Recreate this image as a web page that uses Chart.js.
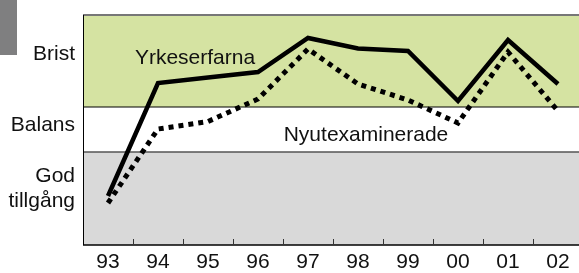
<!DOCTYPE html>
<html>
<head>
<meta charset="utf-8">
<script src="https://cdn.jsdelivr.net/npm/chart.js@4/dist/chart.umd.min.js"></script>
<style>
  html, body { margin: 0; padding: 0; background: #fff; overflow: hidden; width: 579px; height: 273px; }
  #wrap { position: relative; width: 579px; height: 273px; overflow: hidden; }
  #corner { position: absolute; left: 0; top: 0; width: 17px; height: 55px; background: #7f7f80; }
  canvas { position: absolute; left: 0; top: 0; }
</style>
</head>
<body>
<div id="wrap">
  <canvas id="chart" width="590" height="273"></canvas>
  <div id="corner"></div>
</div>
<script>
// years along the bottom
const years = ['93', '94', '95', '96', '97', '98', '99', '00', '01', '02'];
// labour market level, 0 = plenty ... 23 = shortage
const yrkeserfarna = [4.9, 16.2, 16.75, 17.3, 20.7, 19.65, 19.4, 14.4, 20.5, 16.1];
const nyutexaminerade = [4.2, 11.6, 12.35, 14.6, 19.6, 16.1, 14.5, 12.2, 19.3, 13.4];
const seriesNames = ['Yrkeserfarna', 'Nyutexaminerade'];
// y axis labels (bottom to top) and where they sit
const levelLabels = [['God', 'tillgång'], 'Balans', 'Brist'];
const levelValues = [5.63, 11.95, 19.1];
// background bands: god tillgång / balans / brist
const bandEdges = [0, 9.3, 13.8, 23];
const bandColors = ['#d9d9d9', '#ffffff', '#d5e3a2'];

const FONT = "'Liberation Sans', Arial, Helvetica, sans-serif";
const FONT_SIZE = 21;

const backdrop = {
  id: 'backdrop',
  beforeDatasetsDraw(chart) {
    const { ctx, chartArea: a, scales: { x, y } } = chart;
    const w = a.right - a.left;
    ctx.save();
    for (let i = 0; i < bandColors.length; i++) {
      const top = y.getPixelForValue(bandEdges[i + 1]);
      const bot = y.getPixelForValue(bandEdges[i]);
      ctx.fillStyle = bandColors[i];
      ctx.fillRect(a.left, top, w, bot - top);
    }
    const hline = (py, color, lw) => {
      ctx.strokeStyle = color;
      ctx.lineWidth = lw;
      ctx.beginPath();
      ctx.moveTo(a.left, py);
      ctx.lineTo(a.right, py);
      ctx.stroke();
    };
    hline(y.getPixelForValue(bandEdges[1]), '#555', 1.5);
    hline(y.getPixelForValue(bandEdges[2]), '#000', 1);
    hline(a.top, '#777', 2);
    hline(a.bottom, '#000', 1.5);
    // left border
    ctx.strokeStyle = '#000';
    ctx.lineWidth = 1;
    ctx.beginPath();
    ctx.moveTo(a.left + 0.5, a.top);
    ctx.lineTo(a.left + 0.5, a.bottom);
    ctx.stroke();
    // small ticks between the years, pointing up
    ctx.strokeStyle = '#333';
    ctx.lineWidth = 1;
    for (let i = 0; i < years.length - 1; i++) {
      const px = Math.round((x.getPixelForValue(i) + x.getPixelForValue(i + 1)) / 2) + 0.5;
      ctx.beginPath();
      ctx.moveTo(px, a.bottom - 1);
      ctx.lineTo(px, a.bottom - 6);
      ctx.stroke();
    }
    ctx.restore();
  },
  afterDatasetsDraw(chart) {
    const { ctx, scales: { x, y } } = chart;
    ctx.save();
    ctx.fillStyle = '#111';
    ctx.font = FONT_SIZE + 'px ' + FONT;
    ctx.textAlign = 'center';
    ctx.textBaseline = 'middle';
    ctx.fillText(seriesNames[0], x.getPixelForValue(1.74), y.getPixelForValue(18.7));
    ctx.fillText(seriesNames[1], x.getPixelForValue(5.16), y.getPixelForValue(11.0));
    ctx.restore();
  }
};

new Chart(document.getElementById('chart'), {
  type: 'line',
  data: {
    labels: years,
    datasets: [
      {
        label: seriesNames[0],
        data: yrkeserfarna,
        borderColor: '#000',
        borderWidth: 4.5,
        borderJoinStyle: 'miter',
        borderCapStyle: 'butt',
        pointRadius: 0,
        tension: 0
      },
      {
        label: seriesNames[1],
        data: nyutexaminerade,
        borderColor: '#000',
        borderWidth: 5,
        borderDash: [5, 5],
        borderJoinStyle: 'miter',
        borderCapStyle: 'butt',
        pointRadius: 0,
        tension: 0
      }
    ]
  },
  options: {
    responsive: false,
    animation: false,
    layout: { padding: { top: 15, right: 7, left: 0, bottom: 0 } },
    plugins: {
      legend: { display: false },
      tooltip: { enabled: false }
    },
    scales: {
      x: {
        type: 'category',
        offset: true,
        grid: { display: false, drawTicks: false },
        border: { display: false },
        ticks: {
          color: '#111',
          padding: 5,
          maxRotation: 0,
          autoSkip: false,
          font: { family: FONT, size: FONT_SIZE }
        },
        afterFit(scale) {
          scale.height = 28;
          scale.paddingLeft = 0;
          scale.paddingRight = 0;
        }
      },
      y: {
        min: 0,
        max: 23,
        grid: { display: false, drawTicks: false },
        border: { display: false },
        afterBuildTicks(scale) {
          scale.ticks = levelValues.map(v => ({ value: v }));
        },
        ticks: {
          color: '#111',
          padding: 8,
          font: { family: FONT, size: FONT_SIZE, lineHeight: 1.17 },
          callback: (value, index) => levelLabels[index]
        },
        afterFit(scale) {
          scale.width = 83;
          scale.paddingTop = 0;
          scale.paddingBottom = 0;
        }
      }
    }
  },
  plugins: [backdrop]
});
</script>
</body>
</html>
